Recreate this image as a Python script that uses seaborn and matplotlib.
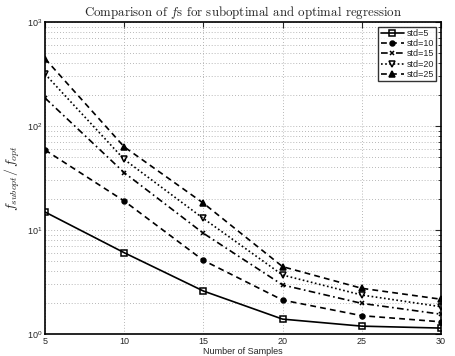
import matplotlib
matplotlib.use("Agg")
import matplotlib.pyplot as plt
import seaborn as sns
import numpy as np
import pandas as pd
from matplotlib.ticker import LogLocator, NullFormatter

samples = [5, 10, 15, 20, 25, 30]
std5 = [14.9, 6.05, 2.59, 1.39, 1.19, 1.14]
std10 = [58.8, 19.0, 5.1, 2.12, 1.50, 1.31]
std15 = [186, 35.6, 9.3, 2.96, 1.97, 1.55]
std20 = [316, 47.7, 12.9, 3.69, 2.37, 1.83]
std25 = [444, 63, 18.1, 4.44, 2.75, 2.16]
labels = ["std=5", "std=10", "std=15", "std=20", "std=25"]
series = [std5, std10, std15, std20, std25]

styles = [
    dict(ls="-", marker="s", mfc="none", ms=4),
    dict(ls=(0, (3.5, 2.5)), marker="o", mfc="k", ms=3.5),
    dict(ls=(0, (4, 2, 1, 2)), marker="x", mfc="k", ms=3.5),
    dict(ls=(0, (1, 1.5)), marker="v", mfc="none", ms=5),
    dict(ls=(0, (3.5, 2.5)), marker="^", mfc="k", ms=5),
]

sns.set_style("white")
plt.rcParams["font.family"] = ["Liberation Sans", "DejaVu Sans"]
plt.rcParams["mathtext.fontset"] = "cm"

fig = plt.figure(figsize=(4.56, 3.56), dpi=100)
ax = fig.add_axes([45/456, 22/356, 396/456, 312/356])

for lab, vals, st in zip(labels, series, styles):
    df = pd.DataFrame({"x": samples, "y": vals})
    sns.lineplot(data=df, x="x", y="y", ax=ax, color="k", lw=1.2,
                 linestyle=st["ls"], marker=st["marker"], markersize=st["ms"],
                 markerfacecolor=st["mfc"], markeredgecolor="k", markeredgewidth=1.1,
                 label=lab)

ax.set_yscale("log")
ax.set_ylim(1, 1000)
ax.set_xlim(5, 30)
ax.set_xticks(samples)
ax.yaxis.set_major_locator(LogLocator(base=10, numticks=10))
ax.yaxis.set_minor_locator(LogLocator(base=10, subs=np.arange(2, 10), numticks=10))
ax.yaxis.set_minor_formatter(NullFormatter())
gkw = dict(ls=(0, (1, 2.5)), color="#a0a0a0", lw=0.6)
ax.grid(True, which="major", axis="both", **gkw)
ax.grid(True, which="minor", axis="y", **gkw)
ax.tick_params(direction="in", which="both", top=True, right=True, labelsize=6.5,
               length=4, pad=2)
ax.tick_params(which="minor", length=2)
for s in ax.spines.values():
    s.set_color("k")
    s.set_linewidth(1.2)

ax.set_xlabel("Number of Samples", fontsize=6.5, labelpad=1)
ax.set_ylabel(r"$f_{subopt}/\,f_{opt}$", fontsize=10)
ax.yaxis.set_label_coords(-0.058, 0.5)
ax.set_title(r"Comparison of $f$s for suboptimal and optimal regression",
             fontsize=9.3, family="cmr10", pad=4)

leg = ax.legend(loc="upper right", fontsize=6.5, frameon=True, fancybox=False,
                handlelength=2.6, borderaxespad=0.5, labelspacing=0.15,
                handletextpad=0.3, borderpad=0.25)
leg.get_frame().set_edgecolor("k")
leg.get_frame().set_linewidth(1.0)

fig.savefig("out.png", dpi=100)
